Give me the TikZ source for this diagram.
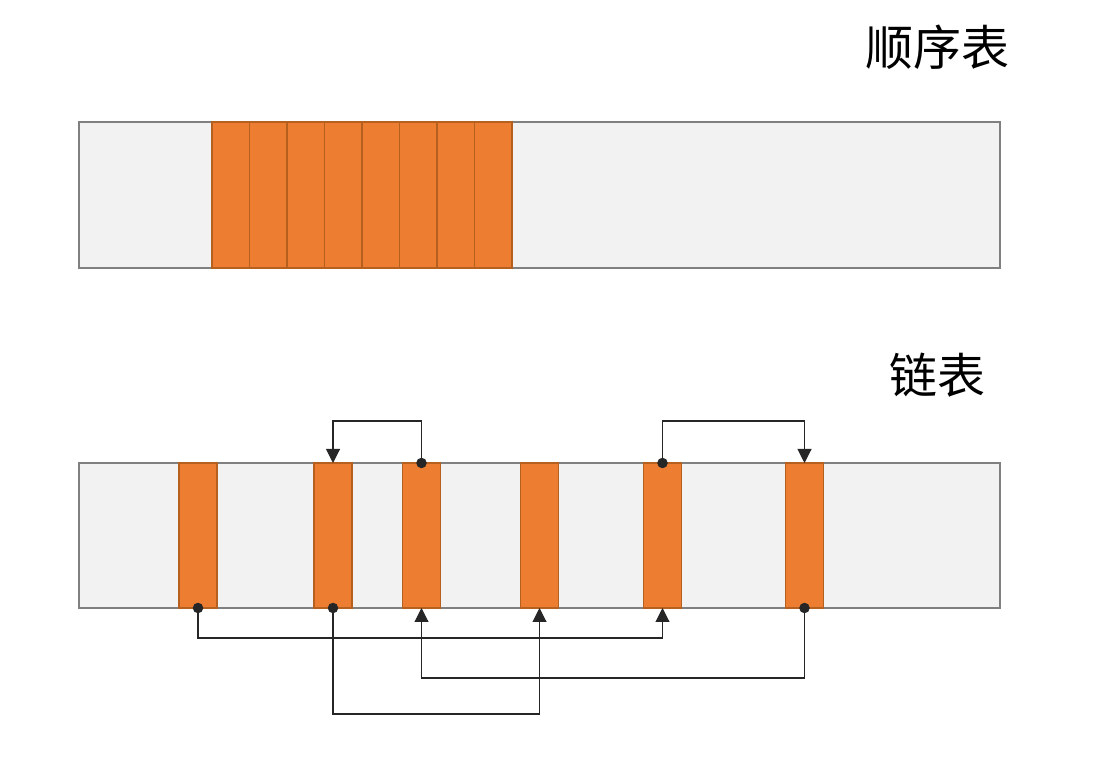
\documentclass[tikz,border=0pt]{standalone}
\usepackage{fontspec}
\newfontfamily\cjk{Noto Sans CJK SC}
\usepackage{tikz}
\usetikzlibrary{positioning,arrows.meta}
\definecolor{bargray}{HTML}{F2F2F2}
\definecolor{barline}{HTML}{808080}
\definecolor{cell}{HTML}{ED7D31}
\definecolor{cellline}{HTML}{B5601F}
\tikzset{
  bar/.style     = {draw=barline, fill=bargray, line width=1.5pt, inner sep=0pt, outer sep=0pt, minimum width=690.75pt},
  seqcell/.style = {draw=cellline, fill=cell, line width=1.3pt, inner sep=0pt, outer sep=0pt, minimum width=28.125pt, minimum height=109.5pt},
  lnkcell/.style = {draw=cellline, fill=cell, line width=1.3pt, inner sep=0pt, outer sep=0pt, minimum width=28.5pt, minimum height=108.75pt},
  title/.style   = {font=\cjk\fontsize{36}{40}\selectfont, inner sep=0pt},
  link/.style    = {{Circle[length=7.8pt]}-{Triangle[length=10.5pt,width=10.5pt]}, draw=black!85, line width=0.8pt, shorten <=-3.9pt},
}
\begin{document}
\begin{tikzpicture}[x=0.75pt,y=0.75pt]
\useasboundingbox (0,0) rectangle (1113,763);

% ---- sequential list ----------------------------------------------------
\node[title] (seqlab) at (937,716) {顺序表};
\node[bar, minimum height=109.5pt] (arr) at (539.5,568) {};
\node[seqcell] (c1) at (230.75,568) {};
\foreach \i [evaluate=\i as \prev using int(\i-1)] in {2,...,8}
  \node[seqcell, right=0pt of c\prev] (c\i) {};

% ---- linked list --------------------------------------------------------
\node[title] (lnklab) at (937,388) {链表};
\node[bar, minimum height=108.75pt] (mem) at (539.5,227.5) {};
\foreach \x [count=\i] in {198,333,421.5,539.5,662.5,804.5}
  \node[lnkcell] (b\i) at (\x,227.5) {};

% next pointers
\draw[link] (b3.north) -- ++(0,42) -| (b2.north);
\draw[link] (b5.north) -- ++(0,42) -| (b6.north);
\draw[link] (b1.south) -- ++(0,-30) -| (b5.south);
\draw[link] (b6.south) -- ++(0,-70) -| (b3.south);
\draw[link] (b2.south) -- ++(0,-106) -| (b4.south);

\end{tikzpicture}
\end{document}
